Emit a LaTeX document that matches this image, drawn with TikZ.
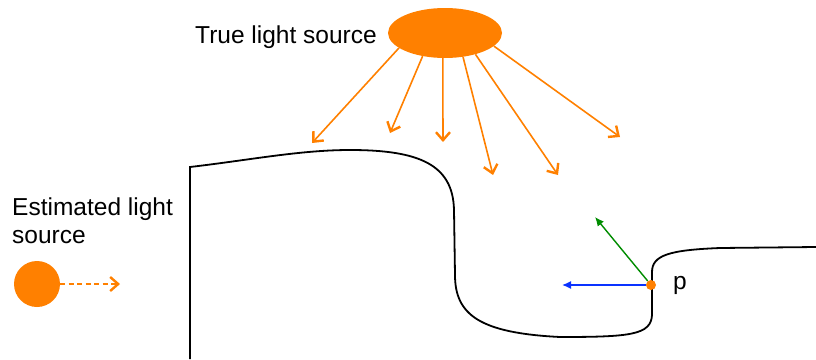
\documentclass[tikz,border=0pt]{standalone}
\usepackage{fontspec}
\setmainfont{Liberation Sans}
\usetikzlibrary{arrows.meta,shapes.geometric}
\definecolor{lightorange}{RGB}{255,128,0}
\definecolor{normalblue}{RGB}{10,50,255}
\definecolor{normalgreen}{RGB}{0,140,0}
\begin{document}
\begin{tikzpicture}[x=1pt,y=-1pt,
  ray/.style={lightorange,line width=1.6pt,-{Straight Barb[length=8pt,width=14pt,line width=2.4pt]}},
  vec/.style={line width=1.4pt,-{Latex[length=9pt,width=8pt]}},
  lbl/.style={font=\fontsize{24.5}{28}\selectfont,inner sep=0pt}]
  \useasboundingbox (0,0) rectangle (816,359);
  % surface profile
  \draw[line width=1.8pt] (190,359) -- (190,167) .. controls (250,160) and (300,150) .. (350,150)
    .. controls (420,150) and (453,165) .. (454,210) -- (455,275)
    .. controls (455,315) and (480,333) .. (560,337) .. controls (630,337) and (651,335) .. (652,315)
    -- (652,272) .. controls (652,255) and (670,250) .. (720,248) -- (816,247);
  % true source and its rays
  \node[ellipse,fill=lightorange,minimum width=114pt,minimum height=50pt,inner sep=0pt] (sun) at (445,33) {};
  \node[lbl,anchor=base east] (sunlbl) at (377,43) {True light source};
  \foreach \a/\ex/\ey [count=\i] in {198/312/143,226/390/133,265/443/142,307/493/175,325/558/175,345/620/137} {
    \coordinate (hit\i) at (\ex,\ey);
    \draw[ray] (sun.\a) -- (hit\i);
  }
  % estimated source
  \node[lbl,anchor=base west,align=left] (estlbl) at (12,243) {Estimated light\\source};
  \node[circle,fill=lightorange,minimum size=46pt,inner sep=0pt] (est) at (37,284) {};
  \coordinate (estend) at (120,284);
  \draw[ray,dash pattern=on 5pt off 3.5pt] (est) -- (estend);
  % point p with normal and light direction
  \node[circle,fill=lightorange,minimum size=10pt,inner sep=0pt] (p) at (651,285) {};
  \node[lbl,anchor=base west] (plbl) at (673,289) {p};
  \coordinate (nrm) at (595,217);
  \coordinate (ldir) at (562,285);
  \draw[vec,normalgreen] (p) -- (nrm);
  \draw[vec,normalblue] (p) -- (ldir);
\end{tikzpicture}
\end{document}
